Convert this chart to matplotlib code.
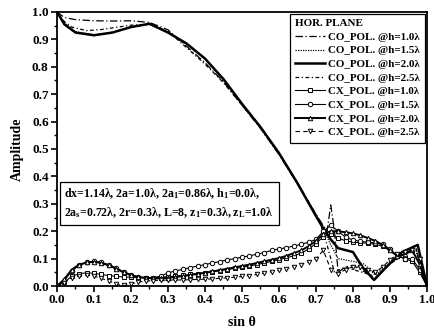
import matplotlib
matplotlib.use("Agg")
import matplotlib.pyplot as plt
import numpy as np

plt.rcParams['font.family'] = ['Liberation Serif', 'DejaVu Serif']
plt.rcParams['font.weight'] = 'bold'
plt.rcParams['mathtext.fontset'] = 'custom'
plt.rcParams['mathtext.rm'] = 'Liberation Serif:bold'
plt.rcParams['mathtext.it'] = 'Liberation Serif:bold'
plt.rcParams['mathtext.default'] = 'regular'

# co-polar patterns
co10_x = [0, .02, .05, .1, .15, .2, .25, .3, .35, .4, .45, .5, .55, .6, .65, .7, .72, .73, .74, .75, .76, .78, .8, .82, .86, .9, .94, .97, 1.0]
co10_y = [1.0, .98, .972, .968, .967, .968, .962, .935, .875, .815, .745, .66, .575, .48, .372, .262, .22, .2, .296, .2, .05, .07, .075, .06, .03, .08, .12, .135, 0]

co15_x = [0, .02, .05, .1, .15, .2, .25, .3, .35, .4, .45, .5, .55, .6, .65, .7, .72, .74, .76, .8, .83, .86, .9, .94, .97, 1.0]
co15_y = [1.0, .96, .928, .917, .926, .945, .956, .926, .886, .83, .752, .664, .58, .487, .377, .257, .21, .15, .1, .09, .08, .04, .08, .12, .13, 0]

co20_x = [0, .02, .05, .1, .15, .2, .25, .3, .35, .4, .45, .5, .55, .6, .65, .7, .72, .74, .76, .8, .825, .857, .9, .933, .975, 1.0]
co20_y = [1.0, .955, .925, .915, .925, .945, .957, .925, .885, .83, .755, .665, .58, .485, .375, .255, .21, .17, .138, .124, .07, .022, .083, .124, .15, 0]

co25_x = [0, .02, .04, .08, .12, .15, .2, .25, .3, .35, .4, .45, .5, .55, .6, .65, .7, .71, .73, .75, .78, .8, .85, .9, .94, .97, 1.0]
co25_y = [1.0, .965, .945, .932, .936, .942, .952, .955, .93, .87, .81, .742, .66, .578, .483, .377, .262, .235, .15, .05, .07, .06, .04, .08, .12, .14, 0]

# cross-polar patterns
cx_x = np.arange(0, 1.001, 0.02)
cx10_y = [0.0, .015, .035, .045, .048, .046, .042, .038, .035, .033, .032, .031, .030, .031, .032,
          .034, .036, .039, .042, .045, .048, .052, .056, .060, .064, .068, .073, .078, .084, .090,
          .096, .103, .110, .120, .135, .155, .180, .190, .175, .165, .160, .158, .156, .152, .145,
          .130, .110, .100, .090, .050, 0.0]
cx15_y = [0.0, .020, .055, .075, .086, .090, .086, .078, .066, .052, .040, .032, .029, .030, .036,
          .048, .055, .061, .067, .073, .078, .084, .089, .095, .100, .105, .110, .116, .122, .130,
          .135, .140, .146, .152, .160, .170, .200, .222, .200, .178, .168, .163, .160, .158, .152,
          .135, .110, .100, .100, .060, 0.0]
cx20_y = [0.0, .025, .060, .078, .086, .088, .084, .075, .063, .050, .040, .033, .030, .028, .028,
          .030, .033, .036, .040, .044, .048, .053, .058, .063, .068, .073, .078, .084, .090, .096,
          .102, .110, .120, .130, .145, .165, .190, .200, .200, .196, .192, .185, .175, .165, .150,
          .130, .110, .115, .130, .080, 0.0]
cx25_y = [0.0, .012, .030, .038, .040, .036, .028, .018, .008, .002, .008, .014, .018, .020, .021,
          .022, .022, .022, .023, .024, .025, .026, .028, .030, .032, .035, .038, .042, .047, .052,
          .057, .063, .070, .078, .088, .100, .130, .060, .045, .060, .070, .070, .060, .050, .070,
          .095, .115, .125, .130, .100, 0.0]

fig = plt.figure(figsize=(4.34, 3.36), dpi=100)
ax = fig.add_axes([0.1313, 0.1488, 0.8525, 0.8155])

ax.plot(co10_x, co10_y, color='k', lw=0.9, ls=(0, (6, 2, 1, 2)), label='CO_POL. @h=1.0λ')
ax.plot(co15_x, co15_y, color='k', lw=0.9, ls=(0, (1, 1)), label='CO_POL. @h=1.5λ')
ax.plot(co20_x, co20_y, color='k', lw=1.8, ls='-', label='CO_POL. @h=2.0λ')
ax.plot(co25_x, co25_y, color='k', lw=0.9, ls=(0, (3, 2, 1, 2)), label='CO_POL. @h=2.5λ')

mk = dict(color='k', ms=3.2, mfc='white', mew=0.7)
ax.plot(cx_x, cx10_y, lw=0.8, ls='-', marker='s', label='CX_POL. @h=1.0λ', **mk)
ax.plot(cx_x, cx15_y, lw=0.8, ls='-', marker='o', label='CX_POL. @h=1.5λ', **mk)
ax.plot(cx_x, cx20_y, lw=1.4, ls='-', marker='^', label='CX_POL. @h=2.0λ', **mk)
ax.plot(cx_x, cx25_y, lw=0.8, ls=(0, (4, 3)), marker='v', label='CX_POL. @h=2.5λ', **mk)

ax.set_xlim(0, 1.0)
ax.set_ylim(0, 1.0)
ax.set_xticks(np.arange(0, 1.01, 0.1))
ax.set_yticks(np.arange(0, 1.01, 0.1))
ax.set_xticks(np.arange(0.05, 1.0, 0.1), minor=True)
ax.set_yticks(np.arange(0.05, 1.0, 0.1), minor=True)
ax.xaxis.set_major_formatter(matplotlib.ticker.FormatStrFormatter('%.1f'))
ax.yaxis.set_major_formatter(matplotlib.ticker.FormatStrFormatter('%.1f'))
ax.tick_params(which='major', direction='out', length=4, width=1.2, labelsize=9.5, pad=2)
ax.tick_params(which='minor', direction='out', length=2, width=1.0)
for s in ax.spines.values():
    s.set_linewidth(1.3)

ax.set_xlabel('sin θ', fontsize=10, fontweight='bold', labelpad=7)
ax.set_ylabel('Amplitude', fontsize=10, fontweight='bold', labelpad=6)

leg = ax.legend(loc='upper right', title='HOR. PLANE', alignment='left', fontsize=7.9,
                title_fontproperties={'weight': 'bold', 'size': 7.9},
                frameon=True, fancybox=False, edgecolor='k', framealpha=1,
                handlelength=2.7, handletextpad=0.3, labelspacing=0.36,
                borderpad=0.5, borderaxespad=0.15)
leg.get_frame().set_linewidth(0.9)

ax.text(0.02, 0.302,
        'dx=1.14λ, 2a=1.0λ, 2a$_1$=0.86λ, h$_1$=0.0λ,\n'
        '2a$_s$=0.72λ, 2r=0.3λ, L=8, z$_1$=0.3λ, z$_L$=1.0λ',
        fontsize=8.6, fontweight='bold', va='center', ha='left', linespacing=1.4,
        bbox=dict(boxstyle='square,pad=0.4', fc='white', ec='k', lw=0.9))

fig.savefig('out.png', dpi=100)
